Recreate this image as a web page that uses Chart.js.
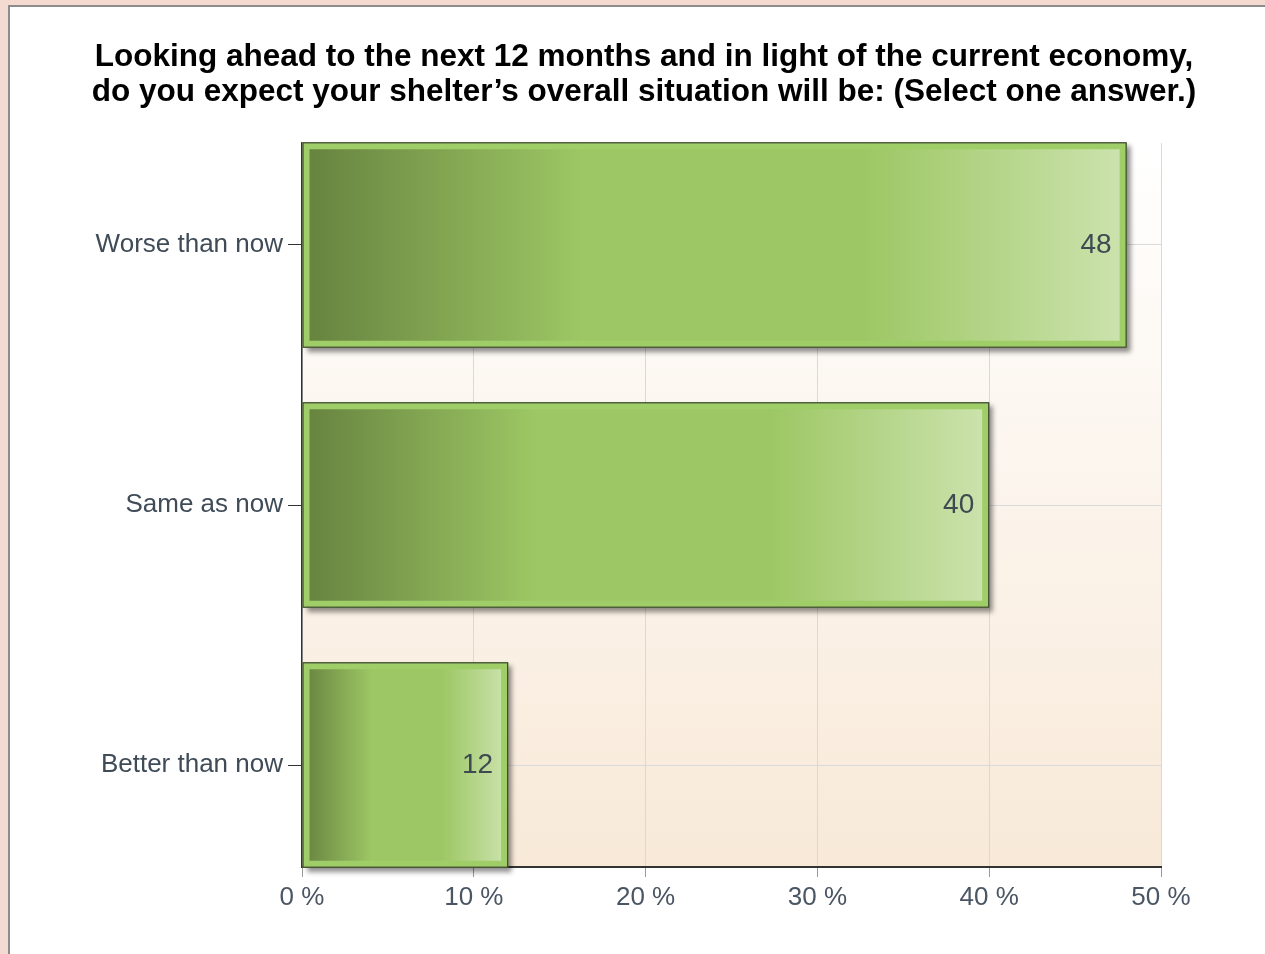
<!DOCTYPE html>
<html>
<head>
<meta charset="utf-8">
<script src="https://cdn.jsdelivr.net/npm/chart.js@4"></script>
<style>
  html, body { margin: 0; padding: 0; width: 1265px; height: 954px; overflow: hidden; background: #f4dad1; }
  #frame { position: absolute; left: 8px; top: 5px; width: 1265px; height: 960px; background: #ffffff;
           border-left: 2px solid #8c8c8c; border-top: 2px solid #8c8c8c; }
  #c { position: absolute; left: 0; top: 0; }
</style>
</head>
<body>
<div id="frame"></div>
<canvas id="c" width="1265" height="954"></canvas>
<script>
// ---- data ----
const titleLines = [
  "Looking ahead to the next 12 months and in light of the current economy,",
  "do you expect your shelter\u2019s overall situation will be: (Select one answer.)"
];
const categories = ["Worse than now", "Same as now", "Better than now"];
const values = [48, 40, 12];
const xTicks = [0, 10, 20, 30, 40, 50];
const tickSuffix = " %";

// ---- plugins ----
const titleDraw = {
  id: 'titleDraw',
  afterDraw(chart) {
    const ctx = chart.ctx;
    ctx.save();
    ctx.fillStyle = '#000000';
    ctx.font = 'bold 31.5px "Liberation Sans", Arial, sans-serif';
    ctx.textAlign = 'center';
    ctx.textBaseline = 'alphabetic';
    const cx = 644;
    titleLines.forEach((t, i) => ctx.fillText(t, cx, 66 + i * 35));
    ctx.restore();
  }
};

const plotBg = {
  id: 'plotBg',
  beforeDraw(chart) {
    const {ctx, chartArea: a} = chart;
    const g = ctx.createLinearGradient(0, a.top, 0, a.bottom);
    g.addColorStop(0, '#ffffff');
    g.addColorStop(1, '#f8e9d8');
    ctx.save();
    ctx.fillStyle = g;
    ctx.fillRect(a.left, a.top, a.right - a.left, a.bottom - a.top);
    ctx.restore();
  }
};

function barRect(el) {
  const p = el.getProps(['x', 'y', 'base', 'height'], true);
  const l = Math.min(p.x, p.base), r = Math.max(p.x, p.base);
  return {l, r, t: p.y - p.height / 2, b: p.y + p.height / 2, cy: p.y, end: p.x};
}

const barDecor = {
  id: 'barDecor',
  beforeDatasetsDraw(chart) {
    const ctx = chart.ctx;
    const meta = chart.getDatasetMeta(0);
    ctx.save();
    ctx.shadowColor = 'rgba(0,0,0,0.45)';
    ctx.shadowOffsetX = 4;
    ctx.shadowOffsetY = 4;
    ctx.shadowBlur = 5;
    ctx.fillStyle = '#9fcd68';
    meta.data.forEach(el => {
      const r = barRect(el);
      ctx.fillRect(r.l, r.t, r.r - r.l, r.b - r.t);
    });
    ctx.restore();
  },
  afterDatasetsDraw(chart) {
    const ctx = chart.ctx;
    const meta = chart.getDatasetMeta(0);
    ctx.save();
    ctx.strokeStyle = '#3c4530';
    ctx.lineWidth = 1.2;
    meta.data.forEach((el, i) => {
      const r = barRect(el);
      ctx.strokeRect(r.l + 0.5, r.t + 0.5, r.r - r.l - 1, r.b - r.t - 1);
      ctx.fillStyle = '#3d4a52';
      ctx.font = '28px "Liberation Sans", Arial, sans-serif';
      ctx.textAlign = 'right';
      ctx.textBaseline = 'middle';
      ctx.fillText(String(values[i]), r.end - 15, r.cy);
    });
    ctx.restore();
  }
};

function barGradient(context) {
  const chart = context.chart;
  if (!chart.chartArea || !chart.scales.x) return '#9dc764';
  const x0 = chart.scales.x.getPixelForValue(0);
  const x1 = chart.scales.x.getPixelForValue(values[context.dataIndex]);
  const g = chart.ctx.createLinearGradient(x0, 0, x1, 0);
  g.addColorStop(0, '#66823f');
  g.addColorStop(0.34, '#9dc764');
  g.addColorStop(0.68, '#9dc764');
  g.addColorStop(1, '#cce3ae');
  return g;
}

new Chart(document.getElementById('c'), {
  type: 'bar',
  data: {
    datasets: [{
      data: values.map((v, i) => ({x: v, y: i})),
      backgroundColor: barGradient,
      borderColor: '#9fcd68',
      borderWidth: 7,
      borderSkipped: false,
      barPercentage: 0.79,
      categoryPercentage: 1.0
    }]
  },
  options: {
    indexAxis: 'y',
    responsive: false,
    animation: false,
    layout: { padding: { left: 0, right: 104, top: 143, bottom: 0 } },
    plugins: {
      legend: { display: false },
      tooltip: { enabled: false },
      title: { display: false }
    },
    scales: {
      x: {
        type: 'linear',
        min: xTicks[0],
        max: xTicks[xTicks.length - 1],
        afterBuildTicks: s => { s.ticks = xTicks.map(v => ({value: v})); },
        afterFit: s => { s.height = 87; },
        ticks: {
          callback: v => v + tickSuffix,
          color: '#4a5663',
          padding: 5,
          font: { family: '"Liberation Sans", Arial, sans-serif', size: 26 }
        },
        grid: { color: '#d9d9d9', lineWidth: 1, tickColor: '#9a9a9a', tickLength: 10 },
        border: { display: true, color: '#333333', width: 2 }
      },
      y: {
        type: 'linear',
        reverse: true,
        offset: false,
        min: -0.3923,
        max: 2.3923,
        afterBuildTicks: s => { s.ticks = categories.map((_, i) => ({value: i})); },
        afterFit: s => { s.width = 302; },
        ticks: {
          callback: v => categories[v] !== undefined ? categories[v] : '',
          color: '#3f4b57',
          padding: 5,
          font: { family: '"Liberation Sans", Arial, sans-serif', size: 26 }
        },
        grid: { offset: false, color: '#dadada', lineWidth: 1, tickColor: '#333333', tickLength: 14 },
        border: { display: true, color: '#333333', width: 1.5 }
      }
    }
  },
  plugins: [plotBg, barDecor, titleDraw]
});
</script>
</body>
</html>
